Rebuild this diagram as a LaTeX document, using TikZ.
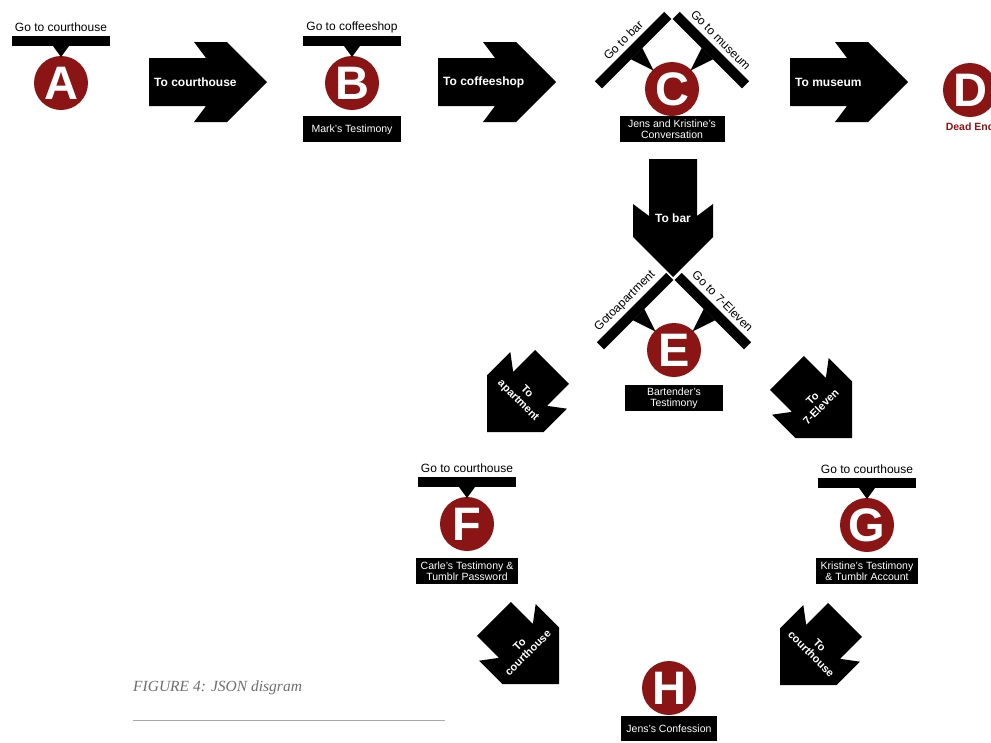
\documentclass[tikz,border=0pt]{standalone}
\usepackage{fontspec}
\setmainfont{Liberation Sans}
\newfontfamily\captionfont{Liberation Serif}
\usepackage{tikz}
\usetikzlibrary{positioning}

\begin{document}
\begin{tikzpicture}[x=1pt, y=1pt,
    stop/.style={circle, fill=stopred, text=white, minimum size=54pt, inner sep=0pt,
        font=\fontsize{47}{47}\selectfont\bfseries},
    infobox/.style={fill=black, text=white, align=center, minimum width=98pt, minimum height=26pt,
        inner xsep=5pt, inner ysep=2pt, font=\fontsize{10.5}{11.5}\selectfont},
    signtext/.style={inner sep=0pt, font=\fontsize{12}{14}\selectfont},
    jumptext/.style={text=white, inner sep=0pt, align=center, font=\fontsize{12}{12.5}\selectfont\bfseries}]

    % Local colours
    \definecolor{stopred}{RGB}{139, 20, 20}
    \definecolor{capgray}{RGB}{110, 110, 110}
    \definecolor{rulegray}{RGB}{170, 170, 170}

    \useasboundingbox (0,0) rectangle (991,-742);

    % STOPS: red circles with their letter
    \foreach \c/\x/\y in {A/61/-83, B/352/-83, C/672/-89, D/970/-90, E/674/-350, F/467/-524, G/867/-525, H/669/-688} {
        \node[stop] (\c) at (\x,\y) {\c};
    }

    % Testimony boxes under the stops
    \node[infobox, below=6pt of B] (markBox) {Mark's Testimony};
    \node[infobox, below=0pt of C, minimum width=105pt] (jensKristineBox) {Jens and Kristine's\\Conversation};
    \node[below=5pt of D, inner sep=0pt, text=stopred, font=\fontsize{10.5}{12}\selectfont\bfseries] (deadEnd) {Dead End};
    \node[infobox, below=8pt of E] (bartenderBox) {Bartender's\\Testimony};
    \node[infobox, below=7pt of F] (carleBox) {Carle's Testimony \&\\Tumblr Password};
    \node[infobox, below=6pt of G] (kristineBox) {Kristine's Testimony\\\& Tumblr Account};
    \node[infobox, below=1pt of H, minimum width=95pt, minimum height=25pt] (jensBox) {Jens's Confession};

    % SIGNS: bar with a pointer, the choice written on the outside
    \foreach \c/\ang/\d/\txt [count=\k] in {A/0/42/Go to courthouse, B/0/42/Go to coffeeshop,
            C/45/55/Go to bar, C/-45/55/Go to museum, E/45/55/Gotoapartment, E/-45/55/Go to 7-Eleven,
            F/0/42/Go to courthouse, G/0/42/Go to courthouse} {
        \begin{scope}[shift={(\c.center)}, rotate=\ang]
            \fill (-49,\d-5) -- (49,\d-5) -- (49,\d+5) -- (-49,\d+5) -- cycle;
            \fill (-8,\d-5) -- (8,\d-5) -- (0,26) -- cycle;
            \node[signtext, rotate=\ang] (sign\k) at (0,\d+14) {\txt};
        \end{scope}
    }

    % JUMPS (straight): tip at (\x,\y), label on the tail
    \foreach \n/\x/\y/\txt in {toCourthouse/267/-82/To courthouse, toCoffeeshop/556/-82/To coffeeshop, toMuseum/908/-82/To museum} {
        \fill[shift={(\x,\y)}] (0,0) -- (-40,40) -- (-73,40) -- (-61,24) -- (-118,24)
            -- (-118,-24) -- (-61,-24) -- (-73,-40) -- (-40,-40) -- cycle;
        \node[jumptext, anchor=west] (\n) at (\x-113,\y) {\txt};
    }

    % JUMPS (turned): tip at (\x,\y), pointing along \ang
    \foreach \n/\x/\y/\ang/\len/\tx/\fs/\txt in {toBar/673/-277/-90/118/59/12/To bar,
            toApartment/487/-432/-135/92/50/11/{To\\apartment}, toSevenEleven/852/-438/-45/92/50/11/{To\\7-Eleven},
            toCourthouseF/559/-684/-45/92/50/11/{To\\courthouse}, toCourthouseG/780/-685/-135/92/50/11/{To\\courthouse}} {
        \begin{scope}[shift={(\x,\y)}, rotate=\ang]
            \fill (0,0) -- (-40,40) -- (-73,40) -- (-61,24) -- (-\len,24)
                -- (-\len,-24) -- (-61,-24) -- (-73,-40) -- (-40,-40) -- cycle;
            \node[jumptext, rotate=\ang+90, font=\fontsize{\fs}{12}\selectfont\bfseries] (\n) at (-\tx,0) {\txt};
        \end{scope}
    }

    % Caption and rule
    \node[anchor=west, inner sep=0pt, text=capgray, font=\captionfont\itshape\fontsize{15.5}{18}\selectfont] (caption) at (133,-688) {FIGURE 4: JSON disgram};
    \coordinate (ruleEnd) at (445,-720);
    \draw[rulegray, line width=1pt] (caption.west |- ruleEnd) -- (ruleEnd);
\end{tikzpicture}
\end{document}
